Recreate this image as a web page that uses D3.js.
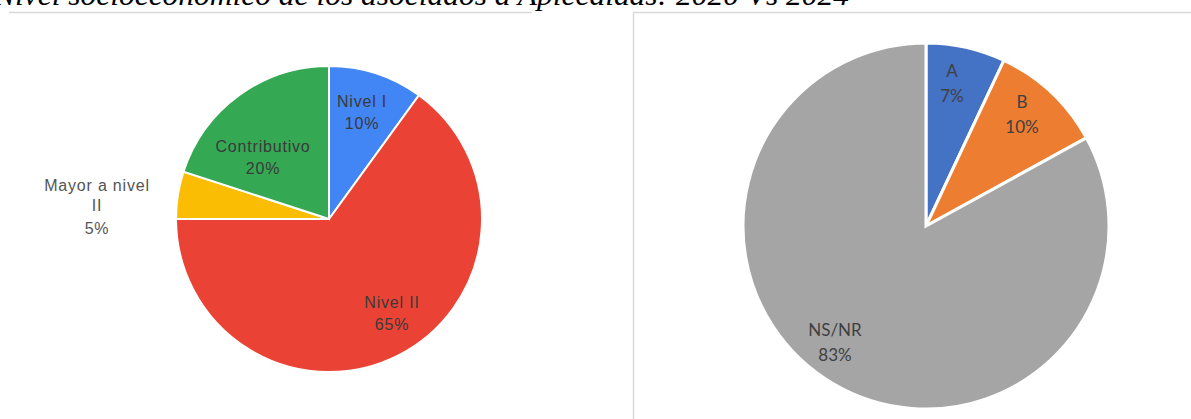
<!DOCTYPE html>
<html>
<head>
<meta charset="utf-8">
<script src="https://cdn.jsdelivr.net/npm/d3@7"></script>
<style>
  body { margin: 0; background: #fff; }
  svg { display: block; }
</style>
</head>
<body>
<svg id="chart" width="1191" height="419"></svg>
<script>
// data
var titleText = "Nivel socioeconómico de los asociados a Apicealdas: 2020 Vs 2024";

var leftLabels = ["Nivel I", "Nivel II", "Mayor a nivel II", "Contributivo"];
var leftValues = [10, 65, 5, 20];
var leftColors = ["#4285f4", "#ea4335", "#fbbc04", "#34a853"];

var rightLabels = ["A", "B", "NS/NR"];
var rightValues = [7, 10, 83];
var rightColors = ["#4472c4", "#ed7d31", "#a5a5a5"];

var svg = d3.select("#chart");

// title (cut at the top of the page)
svg.append("text")
  .attr("x", -6)
  .attr("y", 5)
  .attr("font-family", "'Liberation Serif', 'Times New Roman', serif")
  .attr("font-style", "italic")
  .attr("font-size", 30)
  .attr("textLength", 855)
  .attr("lengthAdjust", "spacingAndGlyphs")
  .attr("fill", "#000")
  .text(titleText);

// light rules / frame
svg.append("line")
  .attr("x1", 9).attr("x2", 532).attr("y1", 12.5).attr("y2", 12.5)
  .attr("stroke", "#d9d9d9").attr("stroke-width", 1.5);
svg.append("path")
  .attr("d", "M633.5,419 V12.5 H1191")
  .attr("fill", "none")
  .attr("stroke", "#d9d9d9").attr("stroke-width", 1.5);

var pie = d3.pie().sort(null).value(function(d) { return d; });

// ---- left pie (2020) ----
var lr = 153;
var gL = svg.append("g").attr("transform", "translate(329,219)");
var arcL = d3.arc().innerRadius(0).outerRadius(lr);
var leftArcs = pie(leftValues);

gL.selectAll("path")
  .data(leftArcs)
  .enter()
  .append("path")
  .attr("d", arcL)
  .attr("fill", function(d, i) { return leftColors[i]; })
  .attr("stroke", "#fff")
  .attr("stroke-width", 2);

// inside labels
var leftLabelPos = [[33, -112], [63, 89], null, [-66, -67]];
leftArcs.forEach(function(d, i) {
  var p = leftLabelPos[i];
  if (!p) return;
  var t = gL.append("text")
    .attr("text-anchor", "middle")
    .attr("font-family", "'Liberation Sans', Arial, sans-serif")
    .attr("font-size", 16)
    .attr("letter-spacing", 0.8)
    .attr("fill", "#3a3a3a");
  t.append("tspan").attr("x", p[0]).attr("y", p[1]).text(leftLabels[i]);
  t.append("tspan").attr("x", p[0]).attr("y", p[1] + 22).text(leftValues[i] + "%");
});

// outside label for the small slice
var outer = svg.append("text")
  .attr("text-anchor", "middle")
  .attr("font-family", "'Liberation Sans', Arial, sans-serif")
  .attr("font-size", 16)
  .attr("letter-spacing", 0.8)
  .attr("fill", "#555");
outer.append("tspan").attr("x", 97).attr("y", 191).text("Mayor a nivel");
outer.append("tspan").attr("x", 97).attr("y", 211).text("II");
outer.append("tspan").attr("x", 97).attr("y", 234).text(leftValues[2] + "%");

// ---- right pie (2024) ----
var rr = 183;
var gR = svg.append("g").attr("transform", "translate(926,226)");
var arcR = d3.arc().innerRadius(0).outerRadius(rr);
var rightArcs = pie(rightValues);

gR.selectAll("path")
  .data(rightArcs)
  .enter()
  .append("path")
  .attr("d", arcR)
  .attr("fill", function(d, i) { return rightColors[i]; })
  .attr("stroke", "#fff")
  .attr("stroke-width", 3);

var rightLabelPos = [[26, -149], [96, -118], [-91, 110]];
rightArcs.forEach(function(d, i) {
  var p = rightLabelPos[i];
  var t = gR.append("text")
    .attr("text-anchor", "middle")
    .attr("font-family", "Lato, 'Open Sans', sans-serif")
    .attr("font-size", 17)
    .attr("fill", "#404040");
  t.append("tspan").attr("x", p[0]).attr("y", p[1]).text(rightLabels[i]);
  t.append("tspan").attr("x", p[0]).attr("y", p[1] + 25).text(rightValues[i] + "%");
});
</script>
</body>
</html>
